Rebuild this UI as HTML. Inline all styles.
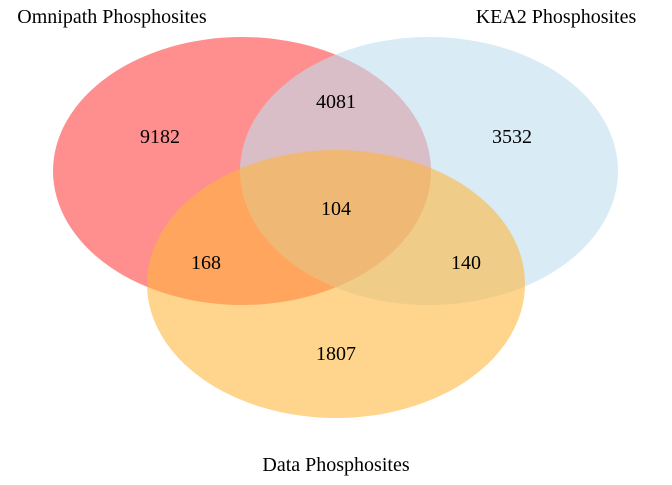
<!DOCTYPE html>
<html><head><meta charset="utf-8"><style>
body{margin:0;background:#fff;}
svg text{font-family:"Liberation Serif",serif;font-size:20px;fill:#000;}
</style></head><body>
<svg id="chart" width="672" height="480"></svg>
<script>
const setNames=["Omnipath Phosphosites","KEA2 Phosphosites","Data Phosphosites"];
const regionKeys=["100","010","110","001","101","011","111"];
const regionValues=[9182,3532,4081,1807,168,140,104];
const svg=document.getElementById('chart');
const NS="http://www.w3.org/2000/svg";
const circles=[{cx:242,cy:171,fill:"#ff4444",op:0.6},{cx:429,cy:171,fill:"#c0deed",op:0.6},{cx:336,cy:284,fill:"#ffb53a",op:0.58}];
const names=["omnipath-set","kea2-set","data-set"];
circles.forEach((c,i)=>{const e=document.createElementNS(NS,'ellipse');
e.setAttribute('cx',c.cx);e.setAttribute('cy',c.cy);e.setAttribute('rx',189);e.setAttribute('ry',134);
e.setAttribute('fill',c.fill);e.setAttribute('fill-opacity',c.op);


svg.appendChild(e);});
const regionPos={"100":[160,137],"010":[512,137],"110":[336,102],"001":[336,354],"101":[206,263],"011":[466,263],"111":[336,209]};
regionKeys.forEach((k,i)=>{const t=document.createElementNS(NS,'text');
t.setAttribute('x',regionPos[k][0]);t.setAttribute('y',regionPos[k][1]);
t.setAttribute('text-anchor','middle');t.setAttribute('dominant-baseline','central');
t.textContent=regionValues[i];


svg.appendChild(t);});
const labPos=[[112,17],[556,17],[336,465]];
setNames.forEach((n,i)=>{const t=document.createElementNS(NS,'text');
t.setAttribute('x',labPos[i][0]);t.setAttribute('y',labPos[i][1]);
t.setAttribute('text-anchor','middle');t.setAttribute('dominant-baseline','central');
t.textContent=n;


svg.appendChild(t);});
</script>
</body></html>
